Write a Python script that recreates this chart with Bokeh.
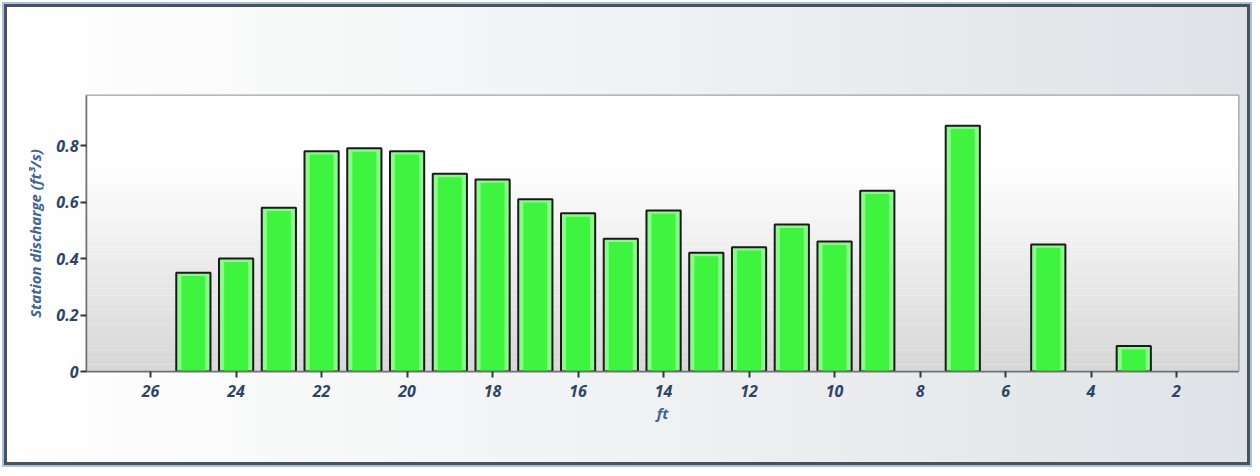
from bokeh.plotting import figure
from bokeh.models import BoxAnnotation, Range1d, FixedTicker
from bokeh.embed import file_html
from bokeh.resources import INLINE

# Data
stations = [25, 24, 23, 22, 21, 20, 19, 18, 17, 16, 15, 14, 13, 12, 11, 10, 9, 7, 5, 3]
discharge = [0.35, 0.40, 0.58, 0.78, 0.79, 0.78, 0.70, 0.68, 0.61, 0.56, 0.47, 0.57,
             0.42, 0.44, 0.52, 0.46, 0.64, 0.87, 0.45, 0.09]
x_ticks = [26, 24, 22, 20, 18, 16, 14, 12, 10, 8, 6, 4, 2]
y_ticks = [0, 0.2, 0.4, 0.6, 0.8]

YMAX = 0.977

p = figure(width=1246, height=461, output_backend="svg", toolbar_location=None,
           x_range=Range1d(27.5, 0.55), y_range=Range1d(0, YMAX),
           min_border_left=79, min_border_right=15, min_border_top=88, min_border_bottom=97)

p.border_fill_color = None
p.styles = {"background": "linear-gradient(to right, #ffffff 0%, #f2f3f4 45%, #dfe3e7 100%)",
            "border": "3px solid #46525e", "outline": "2px solid #a9c2dc",
            "margin": "4px 0 0 4px"}

# plot area vertical gradient
p.background_fill_color = "#ffffff"
n = 40
for i in range(n):
    t0 = i / n
    t1 = (i + 1) / n
    t = (t0 + t1) / 2  # 0 bottom, 1 top
    g = int(round(0xd6 + (0xff - 0xd6) * min(1.0, t / 0.75)))
    col = "#%02x%02x%02x" % (g, g, g)
    p.add_layout(BoxAnnotation(bottom=t0 * YMAX, top=t1 * YMAX, fill_color=col,
                               fill_alpha=1.0, line_alpha=0, level="underlay"))

p.outline_line_color = "#a0a0a0"
p.outline_line_width = 2

p.xgrid.grid_line_color = None
p.ygrid.grid_line_color = "#8c8c8c"
p.ygrid.grid_line_width = 1.5
p.ygrid.ticker = FixedTicker(ticks=y_ticks)

# bars
p.vbar(x=stations, top=discharge, width=0.8, bottom=0, fill_color="#8afb8a",
       line_color="#1a1a1a", line_width=2)
p.vbar(x=stations, top=[d - 0.012 for d in discharge], width=0.56, bottom=0,
       fill_color="#2af22a", line_color=None, fill_alpha=0.8)

font = "Open Sans"
lab_col = "#2d4466"

p.xaxis.ticker = FixedTicker(ticks=x_ticks)
p.yaxis.ticker = FixedTicker(ticks=y_ticks)
p.yaxis.major_label_overrides = {0: "0"}

for ax in (p.xaxis, p.yaxis):
    ax.axis_line_color = "#707070"
    ax.axis_line_width = 1.5
    ax.major_tick_line_color = "#303840"
    ax.major_tick_line_width = 2
    ax.major_tick_out = 6
    ax.major_tick_in = 0
    ax.minor_tick_line_color = None
    ax.major_label_text_font = font
    ax.major_label_text_font_style = "bold italic"
    ax.major_label_text_font_size = "16px"
    ax.major_label_text_color = lab_col
    ax.axis_label_text_font = font
    ax.axis_label_text_font_style = "bold italic"
    ax.axis_label_text_font_size = "15px"
    ax.axis_label_text_color = "#3f6593"

p.xaxis.axis_label = "ft"
p.yaxis.axis_label = "Station discharge (ft³/s)"
p.xaxis.major_label_standoff = 7
p.xaxis.axis_label_standoff = 3
p.yaxis.major_label_standoff = 2
p.yaxis.axis_label_standoff = 8

open("out.html", "w").write(file_html(p, INLINE))
